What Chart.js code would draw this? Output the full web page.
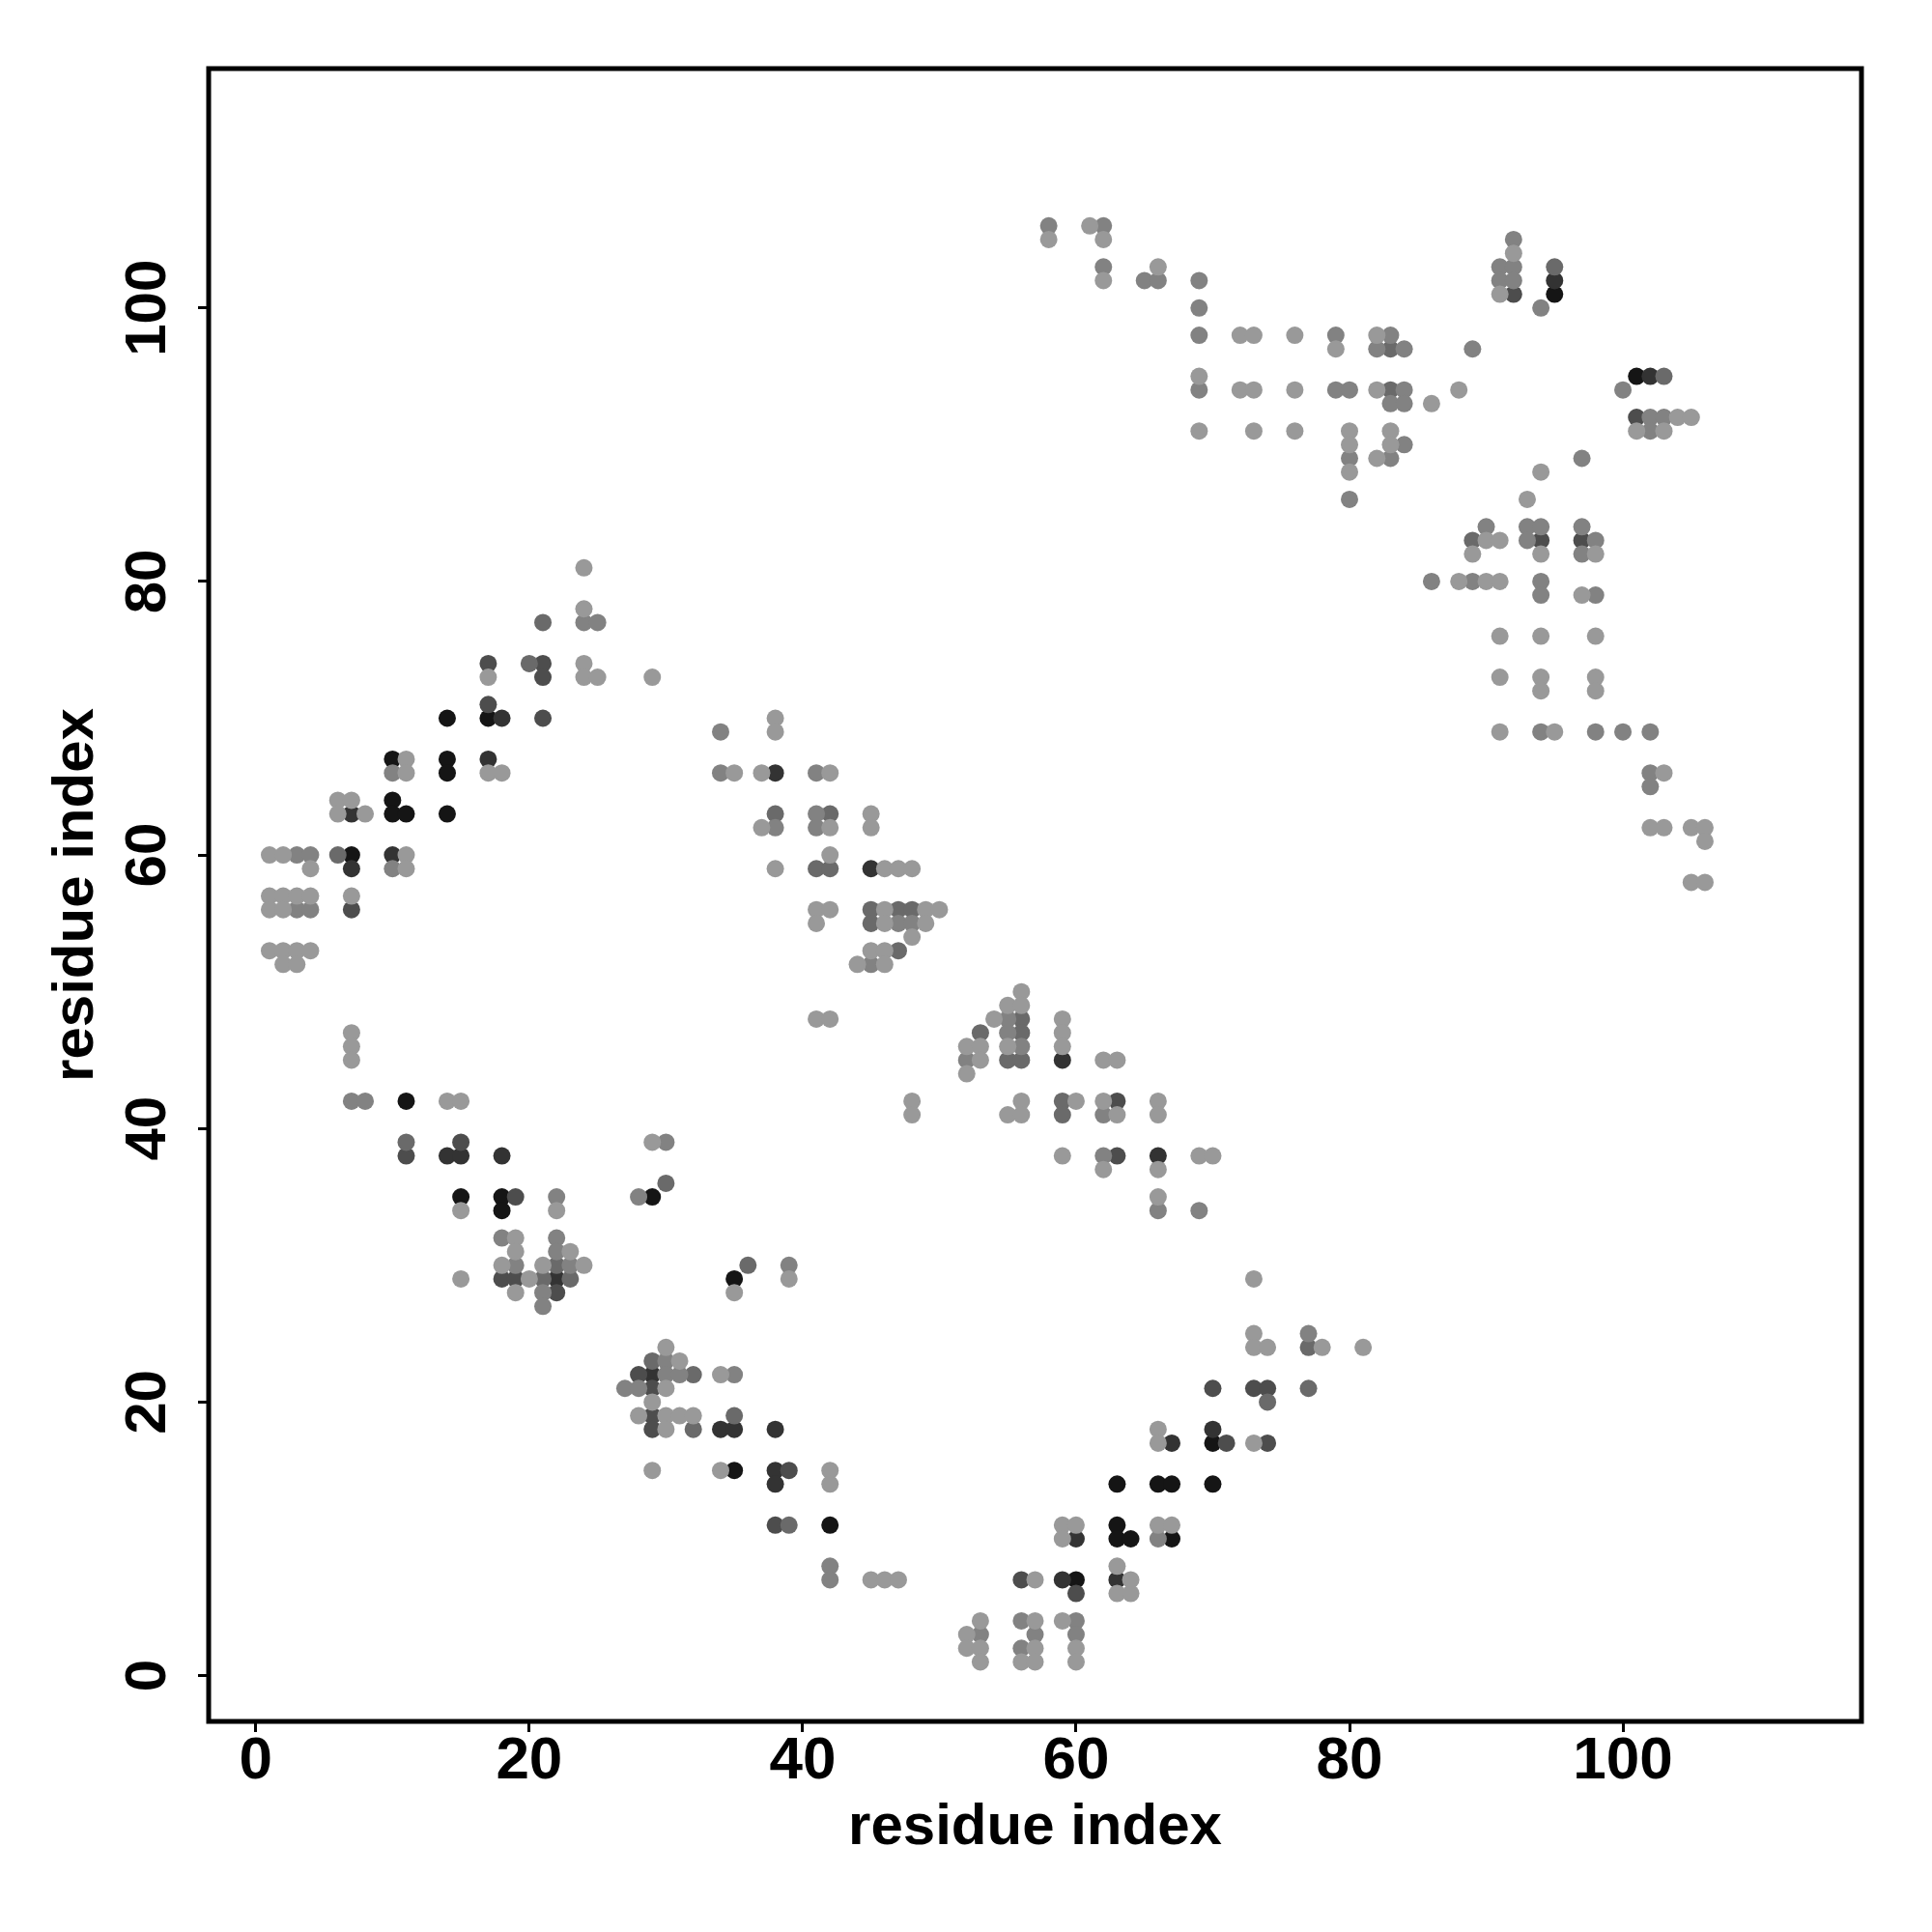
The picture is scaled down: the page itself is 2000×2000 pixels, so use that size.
<!DOCTYPE html>
<html lang="en">
<head>
    <meta charset="UTF-8">
    <title>residue contacts</title>
    <script src="https://cdn.jsdelivr.net/npm/chart.js@4.4.1/dist/chart.umd.min.js"></script>
    <style>
        body { margin: 0; background: #fff; }
    </style>
</head>
<body>
    <canvas id="myChart" width="2000" height="2000"></canvas>
<script>
    // contact points, grouped by grey level (x = residue, y = residue)
    const lightPts = [
        [24,81],[24,78],[17,73],[24,74],[24,73],[25,73],[29,73],[11,67],[11,66],[17,66],[18,66],
        [6,64],[7,64],[6,63],[8,63],[1,60],[2,60],[4,59],[11,60],[11,59],[1,57],[2,57],[3,57],[4,57],
        [1,56],[2,56],[7,57],[1,53],[2,53],[3,53],[4,53],[2,52],[3,52],
        [7,47],[7,46],[7,45],[14,42],[15,42],[15,34],[22,34],[19,32],[19,31],[23,31],[18,30],[21,30],
        [24,30],[15,29],[20,29],[19,28],
        [38,70],[38,69],[35,66],[37,66],[42,66],[37,62],[42,62],[45,63],[45,62],[38,59],[42,60],
        [46,59],[47,59],[48,59],[41,56],[42,56],[41,55],[46,56],[49,56],[50,56],[46,55],[49,55],
        [48,54],[45,53],[46,53],[44,52],[46,52],[41,48],[42,48],
        [29,39],[35,28],[39,29],[30,24],[31,23],[34,22],[30,21],[29,20],[28,19],[30,19],[31,19],
        [32,19],[30,18],[29,15],[34,15],[42,15],[42,14],[45,7],[46,7],[47,7],[48,42],[48,41],
        [56,50],[55,49],[56,49],[54,48],[52,46],[53,46],[55,46],[53,45],[52,44],[59,48],[59,47],
        [59,46],[62,45],[63,45],[56,42],[55,41],[56,41],[60,42],[62,42],[63,41],[66,42],[66,41],
        [59,38],[62,37],[66,37],[69,38],[70,38],[66,35],
        [73,29],[73,25],[73,24],[66,18],[66,17],[73,17],[59,11],[60,11],[59,10],[66,11],[67,11],
        [57,7],[63,8],[64,7],[63,6],[64,6],[53,4],[52,3],[52,2],[53,2],[53,1],[57,4],[57,2],[56,1],
        [57,1],[59,4],[60,2],[60,1],[74,24],[78,24],[81,24],
        [58,105],[61,106],[62,105],[62,102],[66,103],[72,98],[73,98],[76,98],[79,97],[82,98],
        [69,95],[72,94],[73,94],[76,94],[82,94],[69,91],[73,91],[76,91],[80,91],[80,90],[80,88],
        [83,91],[83,90],[82,89],
        [92,104],[91,101],[86,93],[88,94],[104,92],[105,92],[101,91],[103,91],[94,88],[93,86],
        [90,83],[91,83],[89,82],[94,82],[98,82],[88,80],[90,80],[91,80],[97,79],[91,76],[94,76],
        [98,76],[91,73],[94,73],[94,72],[98,73],[98,72],[91,69],[95,69],[103,66],[102,62],[103,62],
        [105,62],[106,62],[106,61],[105,58],[106,58]
    ];
    const midPts = [
        [24,77],[25,77],[10,66],[3,60],[4,60],[10,59],[3,56],[4,56],
        [7,42],[8,42],[22,35],[28,35],[18,32],[22,32],[22,31],[19,30],[23,30],[21,28],[21,27],
        [34,69],[34,66],[41,66],[38,62],[41,63],[41,62],[47,55],[48,55],[45,52],
        [30,39],[39,30],[30,23],[30,22],[31,22],[35,22],[27,21],[28,21],[42,8],[42,7],
        [55,48],[55,47],[56,46],[52,45],[62,41],[62,38],[66,34],[69,34],
        [66,10],[53,3],[56,4],[57,3],[56,2],[60,4],[60,3],[77,25],
        [58,106],[62,106],[62,103],[65,102],[66,102],[69,102],[69,100],[69,98],[79,98],[83,98],
        [82,97],[84,97],[69,94],[79,94],[80,94],[84,94],[83,93],[84,93],[80,89],[84,90],[83,89],[80,86],
        [92,105],[91,103],[92,103],[91,102],[92,102],[94,100],[89,97],[100,94],[102,92],[103,92],
        [102,91],[97,89],[90,84],[93,84],[94,84],[97,84],
        [93,83],[98,83],[97,82],[86,80],[89,80],[94,80],[94,79],[98,79],[94,69],[98,69],[100,69],
        [102,69],[102,66],[102,65]
    ];
    const midDarkPts = [
        [21,77],[20,74],[6,60],[11,39],[22,30],[21,29],[23,29],
        [38,63],[42,63],[41,59],[42,59],[45,56],[47,56],[48,56],[45,55],[47,53],
        [30,36],[36,30],[29,23],[32,22],[32,18],[35,19],[39,11],
        [56,48],[53,47],[56,47],[55,45],[56,45],[59,42],[59,41],
        [77,24],[74,20],[77,21],[83,97],[83,94],[95,103],[103,95],[89,83]
    ];
    const darkPts = [
        [17,74],[21,74],[21,73],[17,71],[21,70],[7,56],
        [11,38],[15,39],[19,35],[18,29],[19,29],[22,28],
        [28,22],[29,21],[29,19],[29,18],[39,15],[38,11],
        [63,42],[63,38],[70,21],[73,21],[71,17],[56,7],[60,6],[74,21],[74,17],
        [92,101],[101,92],[94,83],[97,83]
    ];
    const darkerPts = [
        [18,70],[17,67],[7,63],[7,59],[10,60],[14,38],[15,38],[18,38],[22,29],
        [38,66],[45,59],[29,22],[34,18],[35,18],[38,18],[38,15],[38,14],
        [59,45],[66,38],[67,17],[70,18],[60,10],[59,7],[63,7],[95,102],[102,95]
    ];
    const blackPts = [
        [14,70],[17,70],[10,67],[14,67],[14,66],[10,64],[10,63],[11,63],[14,63],[7,60],
        [11,42],[15,35],[18,35],[18,34],[29,35],[35,29],[35,15],[42,11],
        [70,17],[63,14],[66,14],[67,14],[70,14],[63,11],[63,10],[64,10],[67,10],[60,7],
        [95,101],[101,95]
    ];
    const tickVals = [0, 20, 40, 60, 80, 100];
    const axisTitle = 'residue index';

    const groups = [
        { pts: lightPts,    color: '#999999' },
        { pts: midPts,      color: '#828282' },
        { pts: midDarkPts,  color: '#6a6a6a' },
        { pts: darkPts,     color: '#4d4d4d' },
        { pts: darkerPts,   color: '#333333' },
        { pts: blackPts,    color: '#151515' }
    ];

    const FONT = 'Liberation Sans';

    // frame round the plot area + rotated y tick labels
    const framePlugin = {
        id: 'frame',
        afterDatasetsDraw(chart) {
            const a = chart.chartArea;
            const ctx = chart.ctx;
            ctx.save();
            ctx.strokeStyle = '#000';
            ctx.lineWidth = 5;
            ctx.strokeRect(a.left, a.top, a.right - a.left, a.bottom - a.top);
            ctx.restore();
        },
        afterDraw(chart) {
            const y = chart.scales.y;
            const ctx = chart.ctx;
            ctx.save();
            ctx.fillStyle = '#000';
            ctx.font = 'bold 60px "' + FONT + '"';
            ctx.textAlign = 'center';
            ctx.textBaseline = 'middle';
            tickVals.forEach(v => {
                ctx.save();
                ctx.translate(154, y.getPixelForValue(v));
                ctx.rotate(-Math.PI / 2);
                ctx.fillText(String(v), 0, 0);
                ctx.restore();
            });
            ctx.restore();
        }
    };

    const ctx = document.getElementById('myChart').getContext('2d');
    const myChart = new Chart(ctx, {
        type: 'scatter',
        data: {
            datasets: groups.map(g => ({
                data: g.pts.map(p => ({ x: p[0], y: p[1] })),
                backgroundColor: g.color,
                borderWidth: 0,
                pointRadius: 9,
                pointHoverRadius: 9
            }))
        },
        options: {
            responsive: false,
            animation: false,
            devicePixelRatio: 1,
            layout: { padding: { top: 71, right: 73, left: 0, bottom: 0 } },
            plugins: { legend: { display: false }, tooltip: { enabled: false } },
            scales: {
                x: {
                    type: 'linear',
                    min: -3.45,
                    max: 117.45,
                    afterBuildTicks: axis => { axis.ticks = tickVals.map(v => ({ value: v })); },
                    afterFit: axis => { axis.height = 218; },
                    border: { display: false },
                    grid: {
                        drawOnChartArea: false,
                        drawTicks: true,
                        tickLength: 11,
                        tickWidth: 3,
                        tickColor: '#000'
                    },
                    ticks: {
                        color: '#000',
                        padding: -6,
                        maxRotation: 0,
                        font: { family: FONT, size: 62, weight: 'bold' }
                    },
                    title: {
                        display: true,
                        text: axisTitle,
                        color: '#000',
                        font: { family: FONT, size: 60, weight: 'bold' },
                        padding: { top: 0, bottom: 72 }
                    }
                },
                y: {
                    type: 'linear',
                    min: -3.35,
                    max: 117.5,
                    afterBuildTicks: axis => { axis.ticks = tickVals.map(v => ({ value: v })); },
                    afterFit: axis => { axis.width = 216; },
                    border: { display: false },
                    grid: {
                        drawOnChartArea: false,
                        drawTicks: true,
                        tickLength: 11,
                        tickWidth: 3,
                        tickColor: '#000'
                    },
                    ticks: { display: false },
                    title: {
                        display: true,
                        text: axisTitle,
                        color: '#000',
                        font: { family: FONT, size: 60, weight: 'bold' },
                        padding: { top: 43, bottom: 0 }
                    }
                }
            }
        },
        plugins: [framePlugin]
    });
</script>
</body>
</html>
